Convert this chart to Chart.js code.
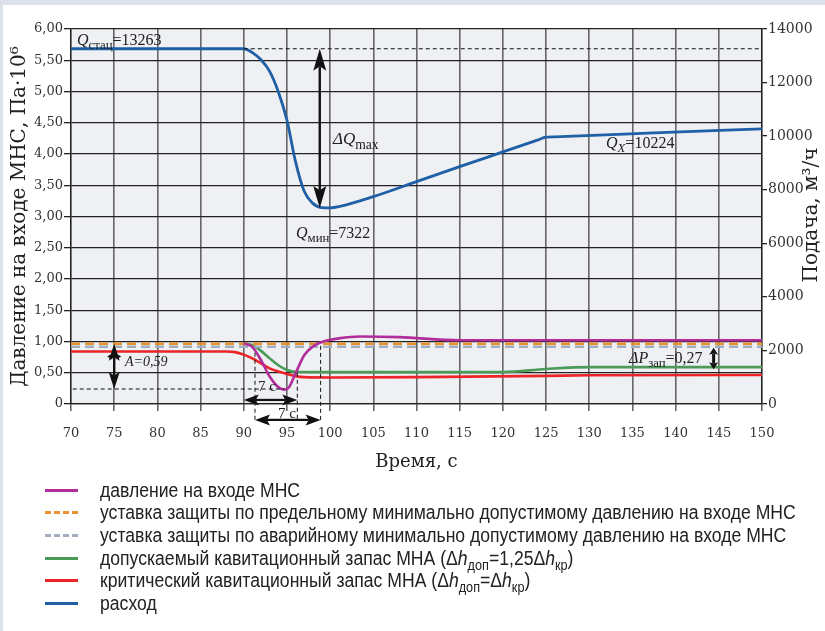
<!DOCTYPE html>
<html lang="ru">
<head>
<meta charset="utf-8">
<script src="https://cdn.jsdelivr.net/npm/chart.js@4.4.1/dist/chart.umd.min.js"></script>
<style>
  html, body { margin: 0; padding: 0; }
  body { width: 825px; height: 631px; background: #dde1e9; position: relative; overflow: hidden; }
  #card { position: absolute; left: 3px; top: 5px; right: 0; bottom: 0; background: #fff; }
  #wrap { position: absolute; left: 0; top: 0; width: 825px; height: 480px; }
  #legend { position: absolute; left: 45px; top: 479px; font-family: "Liberation Sans", sans-serif; font-size: 20px; color: #222; }
  .row { display: flex; align-items: center; height: 22.6px; white-space: nowrap; }
  .sw { width: 33px; height: 3px; margin-right: 22px; flex: none; }
  .txt { display: inline-block; transform: scaleX(0.88); transform-origin: 0 50%; }
  .dash-o { background: repeating-linear-gradient(90deg, #e8922e 0 6px, transparent 6px 9px); }
  .dash-g { background: repeating-linear-gradient(90deg, #a2adbd 0 6px, transparent 6px 9px); }
  sub { font-size: 72%; position: relative; top: 5px; vertical-align: baseline; line-height: 0; }
</style>
</head>
<body>
<div id="card"></div>
<div id="wrap"><canvas id="chart" width="825" height="480"></canvas></div>
<div id="legend">
  <div class="row"><span class="sw" style="background:#b22c9c"></span><span class="txt">давление на входе МНС</span></div>
  <div class="row"><span class="sw dash-o"></span><span class="txt">уставка защиты по предельному минимально допустимому давлению на входе МНС</span></div>
  <div class="row"><span class="sw dash-g"></span><span class="txt">уставка защиты по аварийному минимально допустимому давлению на входе МНС</span></div>
  <div class="row"><span class="sw" style="background:#4b9a58"></span><span class="txt">допускаемый кавитационный запас МНА (Δ<i>h</i><sub>доп</sub>=1,25Δ<i>h</i><sub>кр</sub>)</span></div>
  <div class="row"><span class="sw" style="background:#ec2327"></span><span class="txt">критический кавитационный запас МНА (Δ<i>h</i><sub>доп</sub>=Δ<i>h</i><sub>кр</sub>)</span></div>
  <div class="row"><span class="sw" style="background:#1f5fa6"></span><span class="txt">расход</span></div>
</div>
<script>
// расход, м3/ч (правая ось)
const tFlow = [70, 90, 91, 92, 93, 94, 95, 96, 97, 98, 99, 100, 101, 105, 110, 115, 120, 124, 125, 126, 137.5, 150];
const qFlow = [13263, 13263, 13120, 12850, 12420, 11660, 10600, 9040, 7940, 7490, 7335, 7322, 7366, 7740, 8300, 8860, 9410, 9850, 9960, 9975, 10120, 10270];

// давление на входе МНС, Па·10^6
const tPress = [90, 91, 92, 93, 94, 94.7, 95.2, 96, 97, 98, 99.2, 101, 103.5, 108, 115, 150];
const pPress = [0.97, 0.91, 0.70, 0.44, 0.27, 0.23, 0.26, 0.49, 0.78, 0.92, 1.00, 1.05, 1.08, 1.07, 1.02, 1.02];

// уставки защиты
const tSet = [70, 150];
const pSetLimit = [0.965, 0.965];
const pSetEmerg = [0.915, 0.915];

// допускаемый кавитационный запас
const tAllow = [90, 91, 92, 93, 94, 95, 96, 100, 120, 125, 130, 150];
const pAllow = [0.97, 0.94, 0.85, 0.73, 0.62, 0.545, 0.515, 0.51, 0.51, 0.56, 0.59, 0.59];

// критический кавитационный запас
const tCrit = [70, 88, 89, 90, 91, 92, 93, 94, 95, 96, 97, 100, 110, 125, 130, 150];
const pCrit = [0.84, 0.84, 0.83, 0.79, 0.73, 0.65, 0.57, 0.52, 0.48, 0.445, 0.43, 0.425, 0.43, 0.45, 0.46, 0.465];

// подписи осей
const xTicks = { min: 70, max: 150, step: 5 };
const yTicks = { min: 0, max: 6, step: 0.5 };
const y2Ticks = { min: 0, max: 14000, step: 2000 };

// отметки на графике
const qStat = 13263, qMin = 7322, qX = 10224;

const pts = (xs, ys) => xs.map((x, i) => ({ x, y: ys[i] }));
const SERIF = '"Liberation Serif", "Times New Roman", serif';
const TICKFONT = '"DejaVu Serif", serif';

function rich(ctx, x, y, parts, size) {
  let cx = x;
  for (const [text, kind] of parts) {
    const sub = kind.includes('s');
    const fs = sub ? size * 0.8 : size;
    ctx.font = (kind.includes('i') ? 'italic ' : '') + fs + 'px ' + SERIF;
    ctx.fillText(text, cx, y + (sub ? size * 0.28 : 0));
    cx += ctx.measureText(text).width;
  }
}

function arrow(ctx, x0, y0, x1, y1, len, w, lw) {
  const a = Math.atan2(y1 - y0, x1 - x0);
  const ux = Math.cos(a), uy = Math.sin(a);
  ctx.lineWidth = lw;
  ctx.beginPath();
  ctx.moveTo(x0 + ux * len * 0.8, y0 + uy * len * 0.8);
  ctx.lineTo(x1 - ux * len * 0.8, y1 - uy * len * 0.8);
  ctx.stroke();
  for (const [px, py, s] of [[x0, y0, 1], [x1, y1, -1]]) {
    ctx.beginPath();
    ctx.moveTo(px, py);
    ctx.lineTo(px + s * ux * len - uy * w / 2, py + s * uy * len + ux * w / 2);
    ctx.lineTo(px + s * ux * len * 0.8, py + s * uy * len * 0.8);
    ctx.lineTo(px + s * ux * len + uy * w / 2, py + s * uy * len - ux * w / 2);
    ctx.closePath();
    ctx.fill();
  }
}

const plotBg = {
  id: 'plotBg',
  beforeDraw(chart) {
    const { ctx, chartArea: a } = chart;
    ctx.save();
    ctx.fillStyle = '#eef0f4';
    ctx.fillRect(a.left, a.top, a.right - a.left, a.bottom - a.top);
    ctx.restore();
  }
};

const notes = {
  id: 'notes',
  afterDatasetsDraw(chart) {
    const { ctx, scales: { x, y, y2 } } = chart;
    ctx.save();
    ctx.strokeStyle = '#111';
    ctx.fillStyle = '#111';

    // пунктир Qстац
    ctx.lineWidth = 1;
    ctx.setLineDash([4, 3]);
    ctx.beginPath();
    ctx.moveTo(x.getPixelForValue(90), y2.getPixelForValue(qStat));
    ctx.lineTo(x.getPixelForValue(150), y2.getPixelForValue(qStat));
    // пунктир минимума давления
    ctx.moveTo(x.getPixelForValue(70.2), y.getPixelForValue(0.24));
    ctx.lineTo(x.getPixelForValue(94.7), y.getPixelForValue(0.24));
    // вертикальные пунктиры
    for (const [t, p] of [[91.3, 0.82], [96.2, 0.5], [98.9, 0.93]]) {
      ctx.moveTo(x.getPixelForValue(t), y.getPixelForValue(p));
      ctx.lineTo(x.getPixelForValue(t), y.getPixelForValue(-0.26));
    }
    ctx.stroke();
    ctx.setLineDash([]);

    // ΔQmax
    const xq = x.getPixelForValue(98.8);
    arrow(ctx, xq, y2.getPixelForValue(qStat), xq, y2.getPixelForValue(qMin), 22, 13, 2.4);
    // A
    const xa = x.getPixelForValue(75);
    arrow(ctx, xa, y.getPixelForValue(0.965), xa, y.getPixelForValue(0.24), 17, 11, 2.4);
    const ya = y.getPixelForValue(0.76);
    arrow(ctx, xa - 7, ya, xa + 7, ya, 5, 6, 1.5);
    // 7 с
    arrow(ctx, x.getPixelForValue(90), y.getPixelForValue(0.065), x.getPixelForValue(96.2), y.getPixelForValue(0.065), 15, 11, 2.2);
    arrow(ctx, x.getPixelForValue(91.3), y.getPixelForValue(-0.255), x.getPixelForValue(98.9), y.getPixelForValue(-0.255), 15, 11, 2.2);
    // ΔPзап
    const xp = x.getPixelForValue(144.4);
    arrow(ctx, xp, y.getPixelForValue(0.9), xp, y.getPixelForValue(0.555), 7, 9, 3);

    ctx.fillStyle = '#222';
    ctx.textBaseline = 'alphabetic';
    rich(ctx, 77, 45, [['Q', 'i'], ['стац', 's'], ['=13263', '']], 16);
    rich(ctx, 333, 144, [['ΔQ', 'i'], ['max', 's']], 17);
    rich(ctx, 296, 238, [['Q', 'i'], ['мин', 's'], ['=7322', '']], 16);
    rich(ctx, 606, 148, [['Q', 'i'], ['X', 'si'], ['=10224', '']], 16);
    rich(ctx, 125, 366, [['A=0,59', 'i']], 14);
    rich(ctx, 258, 391, [['7 с', '']], 15);
    rich(ctx, 278, 418, [['7 с', '']], 15);
    rich(ctx, 629, 363, [['ΔP', 'i'], ['зап', 's'], ['=0,27', '']], 16);

    // заголовок правой оси
    ctx.save();
    ctx.translate(812, 215);
    ctx.rotate(-Math.PI / 2);
    ctx.textAlign = 'center';
    ctx.textBaseline = 'middle';
    ctx.fillStyle = '#222';
    ctx.font = '20px "DejaVu Serif", serif';
    ctx.fillText('Подача, м³/ч', 0, 0);
    ctx.restore();

    ctx.restore();
  }
};

new Chart(document.getElementById('chart'), {
  type: 'line',
  data: {
    datasets: [
      { label: 'давление на входе МНС', data: pts(tPress, pPress), yAxisID: 'y',
        borderColor: '#b22c9c', borderWidth: 2.6, cubicInterpolationMode: 'monotone', order: 1 },
      { label: 'уставка защиты по предельному минимально допустимому давлению на входе МНС', data: pts(tSet, pSetLimit), yAxisID: 'y',
        borderColor: '#e8922e', borderWidth: 2.6, borderDash: [9, 5], order: 3 },
      { label: 'уставка защиты по аварийному минимально допустимому давлению на входе МНС', data: pts(tSet, pSetEmerg), yAxisID: 'y',
        borderColor: '#a2adbd', borderWidth: 2.6, borderDash: [9, 5], order: 4 },
      { label: 'допускаемый кавитационный запас МНА', data: pts(tAllow, pAllow), yAxisID: 'y',
        borderColor: '#4b9a58', borderWidth: 2.6, cubicInterpolationMode: 'monotone', order: 5 },
      { label: 'критический кавитационный запас МНА', data: pts(tCrit, pCrit), yAxisID: 'y',
        borderColor: '#ec2327', borderWidth: 2.6, cubicInterpolationMode: 'monotone', order: 6 },
      { label: 'расход', data: pts(tFlow, qFlow), yAxisID: 'y2',
        borderColor: '#1f5fa6', borderWidth: 2.8, cubicInterpolationMode: 'monotone', order: 0 }
    ]
  },
  options: {
    responsive: false,
    animation: false,
    events: [],
    elements: { point: { radius: 0 } },
    layout: { padding: { top: 29, left: 0, right: 0, bottom: 0 } },
    plugins: { legend: { display: false }, tooltip: { enabled: false } },
    scales: {
      x: {
        type: 'linear', min: xTicks.min, max: xTicks.max,
        ticks: { stepSize: xTicks.step, color: '#333', padding: 15, font: { family: TICKFONT, size: 13 } },
        grid: { color: '#666', lineWidth: 1.6, tickLength: 7 },
        border: { color: '#222', width: 1.3 },
        title: { display: true, text: 'Время, с', color: '#222', font: { family: TICKFONT, size: 18 }, padding: { bottom: 7 } },
        afterFit: s => { s.height = 76; }
      },
      y: {
        position: 'left', min: yTicks.min, max: yTicks.max,
        ticks: { stepSize: yTicks.step, color: '#333', padding: 1, font: { family: TICKFONT, size: 13 },
          callback: v => v === 0 ? '0' : v.toFixed(2).replace('.', ',') },
        grid: { color: '#222', lineWidth: 1.3, tickLength: 7 },
        border: { color: '#222', width: 1.3 },
        title: { display: true, text: 'Давление на входе МНС, Па·10⁶', color: '#222', font: { family: TICKFONT, size: 20 }, padding: { top: 8 } },
        afterFit: s => { s.width = 71; }
      },
      y2: {
        position: 'right', min: y2Ticks.min, max: y2Ticks.max,
        ticks: { stepSize: y2Ticks.step, color: '#333', padding: 1, font: { family: TICKFONT, size: 14 },
          callback: v => String(v) },
        grid: { drawOnChartArea: false, color: '#222', lineWidth: 1.3, tickLength: 5 },
        border: { color: '#222', width: 1.3 },
        afterFit: s => { s.width = 63; }
      }
    }
  },
  plugins: [plotBg, notes]
});
</script>
</body>
</html>
